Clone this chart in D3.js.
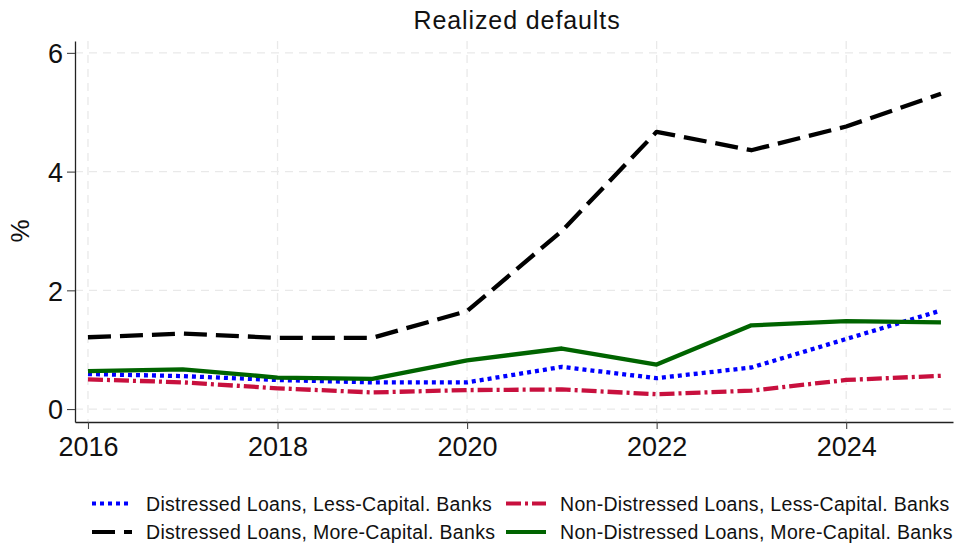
<!DOCTYPE html>
<html>
<head>
<meta charset="utf-8">
<script src="https://cdn.jsdelivr.net/npm/d3@7"></script>
<style>
  html, body { margin: 0; padding: 0; background: #fff; }
  svg { display: block; font-family: "Liberation Sans", Arial, Helvetica, sans-serif; }
</style>
</head>
<body>
<svg id="chart" width="957" height="543"></svg>
<script>
// Realized default rates by loan and bank type, 2016-2025 (%)
const years = [2016, 2017, 2018, 2019, 2020, 2021, 2022, 2023, 2024, 2025];
const distressedLess = [0.59, 0.555, 0.49, 0.45, 0.45, 0.71, 0.52, 0.70, 1.18, 1.66];
const nonDistressedLess = [0.50, 0.45, 0.35, 0.28, 0.32, 0.33, 0.25, 0.31, 0.49, 0.56];
const distressedMore = [1.21, 1.27, 1.20, 1.20, 1.65, 3.00, 4.67, 4.36, 4.76, 5.31];
const nonDistressedMore = [0.64, 0.67, 0.53, 0.51, 0.82, 1.02, 0.75, 1.41, 1.48, 1.46];
const xTicks = [2016, 2018, 2020, 2022, 2024];
const yTicks = [0, 2, 4, 6];

const series = [
  { name: "Distressed Loans, Less-Capital. Banks", values: distressedLess, color: "#0000ff", dash: "4,4", width: 4.3 },
  { name: "Non-Distressed Loans, Less-Capital. Banks", values: nonDistressedLess, color: "#c8103e", dash: "15,4,3,4", width: 4.3 },
  { name: "Distressed Loans, More-Capital. Banks", values: distressedMore, color: "#000000", dash: "23,9", width: 4.3 },
  { name: "Non-Distressed Loans, More-Capital. Banks", values: nonDistressedMore, color: "#006400", dash: null, width: 4.3 }
];

const svg = d3.select("#chart");
const plot = { left: 75, right: 953, top: 41, bottom: 422 };

const x = d3.scaleLinear().domain([2015.863, 2025.127]).range([plot.left, plot.right]);
const y = d3.scaleLinear().domain([-0.218, 6.2]).range([plot.bottom, plot.top]);

// Grid
const grid = svg.append("g").attr("stroke", "#e9e9e9").attr("stroke-width", 1.3).attr("stroke-dasharray", "8,6");
grid.selectAll("line.v").data(xTicks).join("line").attr("class", "v")
  .attr("x1", d => x(d)).attr("x2", d => x(d)).attr("y1", plot.top).attr("y2", plot.bottom);
grid.selectAll("line.h").data(yTicks).join("line").attr("class", "h")
  .attr("x1", plot.left).attr("x2", plot.right).attr("y1", d => y(d)).attr("y2", d => y(d));

// Axes
const xAxis = svg.append("g").attr("transform", `translate(0,${plot.bottom})`)
  .call(d3.axisBottom(x).tickValues(xTicks).tickFormat(d3.format("d")).tickSize(7).tickPadding(5).tickSizeOuter(0));
const yAxis = svg.append("g").attr("transform", `translate(${plot.left},0)`)
  .call(d3.axisLeft(y).tickValues(yTicks).tickFormat(d3.format("d")).tickSize(8).tickPadding(4).tickSizeOuter(0));
[xAxis, yAxis].forEach(a => {
  a.select(".domain").attr("stroke", "#222").attr("stroke-width", 1.3);
  a.selectAll(".tick line").attr("stroke", "#444").attr("stroke-width", 1.1);
  a.selectAll(".tick text").attr("fill", "#111").attr("font-size", 27)
    .attr("font-family", "Liberation Sans, Arial, sans-serif");
});
xAxis.selectAll(".tick text").attr("dy", "0.8em");
yAxis.selectAll(".tick text").attr("dy", "0.36em");

// Lines
const line = d3.line().x((d, i) => x(years[i])).y(d => y(d));
svg.append("g").selectAll("path").data(series).join("path")
  .attr("d", d => line(d.values))
  .attr("fill", "none")
  .attr("stroke", d => d.color)
  .attr("stroke-width", d => d.width)
  .attr("stroke-dasharray", d => d.dash)
  .attr("stroke-linejoin", "round");

// Title and axis label
svg.append("text").attr("x", 517).attr("y", 29).attr("text-anchor", "middle")
  .attr("font-size", 25).attr("letter-spacing", 0.9).attr("fill", "#111").text("Realized defaults");
svg.append("text").attr("transform", "translate(29,231) rotate(-90)").attr("text-anchor", "middle")
  .attr("font-size", 26).attr("fill", "#111").text("%");

// Legend
const legendPos = [
  { x: 92, y: 503.5 }, { x: 506, y: 503.5 },
  { x: 92, y: 532 }, { x: 506, y: 532 }
];
const lg = svg.append("g").selectAll("g").data(series).join("g")
  .attr("transform", (d, i) => `translate(${legendPos[i].x},${legendPos[i].y})`);
lg.append("line").attr("x1", 0).attr("x2", 40).attr("y1", 0).attr("y2", 0)
  .attr("stroke", d => d.color).attr("stroke-width", 4)
  .attr("stroke-dasharray", d => d.dash);
lg.append("text").attr("x", 54).attr("y", 0).attr("dy", "0.36em")
  .attr("font-size", 19.5).attr("letter-spacing", 0.3).attr("fill", "#111").text(d => d.name);
</script>
</body>
</html>
